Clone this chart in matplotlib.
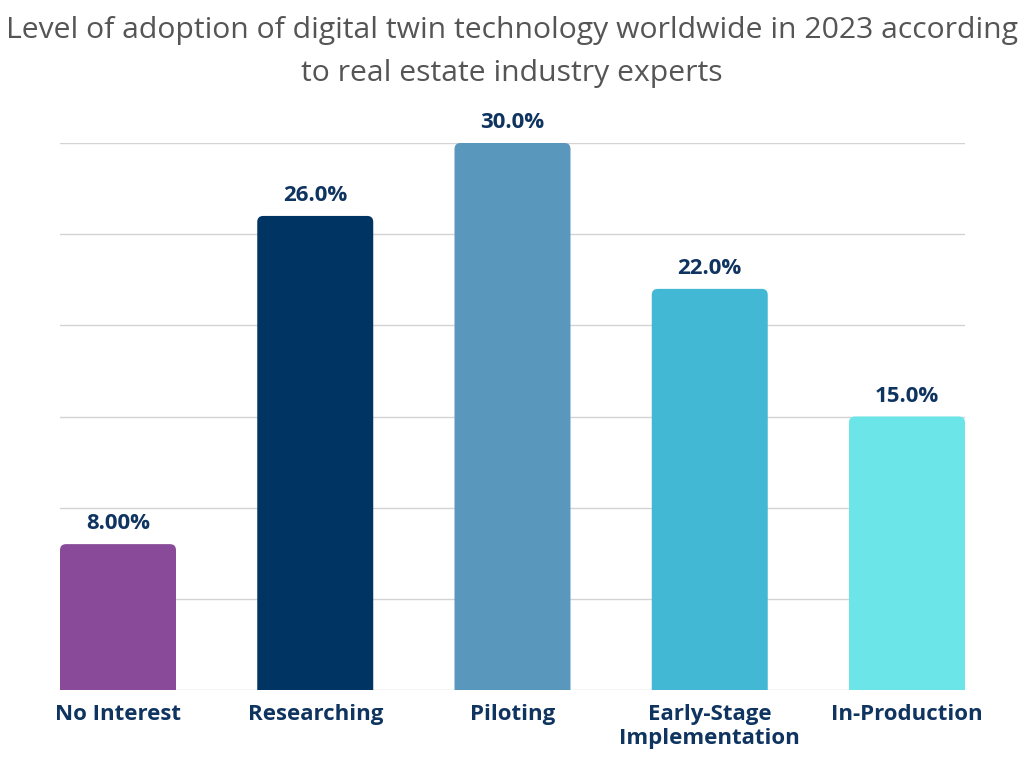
import matplotlib
matplotlib.use("Agg")
import matplotlib.pyplot as plt
from matplotlib.patches import FancyBboxPatch

categories = ["No Interest", "Researching", "Piloting", "Early-Stage\nImplementation", "In-Production"]
values = [8.0, 26.0, 30.0, 22.0, 15.0]
value_labels = ["8.00%", "26.0%", "30.0%", "22.0%", "15.0%"]
colors = ["#884A99", "#003462", "#5A97BD", "#42B8D4", "#6BE5E8"]
title = "Level of adoption of digital twin technology worldwide in 2023 according\nto real estate industry experts"

plt.rcParams['font.family'] = ['Open Sans', 'DejaVu Sans']

W, H = 1024, 768
fig = plt.figure(figsize=(W / 100, H / 100), dpi=100)
left, right, bottom, top = 60, 965, 690, 143
ax = fig.add_axes([left / W, 1 - bottom / H, (right - left) / W, (bottom - top) / H])

bw = 0.588
x = list(range(len(categories)))
bars = ax.bar(x, values, width=bw, color=colors, alpha=0)
ax.set_xlim(-bw / 2, len(categories) - 1 + bw / 2)
ax.set_ylim(0, 30)

# rounded-top bars from the bar geometry
xu_per_px = (len(categories) - 1 + bw) / (right - left)
yu_per_px = 30 / (bottom - top)
r = 6 * xu_per_px
for b, c, lab in zip(bars, colors, value_labels):
    bx, bwid, bh = b.get_x(), b.get_width(), b.get_height()
    p = FancyBboxPatch((bx, -2), bwid, bh + 2,
                       boxstyle=f"round,pad=0,rounding_size={r}",
                       mutation_aspect=yu_per_px / xu_per_px,
                       facecolor=c, edgecolor="none", zorder=3)
    ax.add_patch(p)
    ax.annotate(lab, (bx + bwid / 2, bh),
                xytext=(0, 7), textcoords="offset points",
                ha="center", va="bottom", fontsize=16, fontweight="bold",
                color="#0F3460")

for yv in range(0, 31, 5):
    ax.axhline(yv, color="#d3d3d3", lw=1, zorder=1)

for s in ax.spines.values():
    s.set_visible(False)
ax.set_yticks([])
ax.set_xticks(x)
ax.set_xticklabels(categories, fontsize=16, fontweight="bold", color="#0F3460", linespacing=1.2)
ax.tick_params(axis="x", length=0, pad=10)
for lbl in ax.get_xticklabels():
    lbl.set_va("top")

fig.text(0.5, 1 - 52 / H, title, ha="center", va="center", fontsize=21.7,
         color="#555555", linespacing=1.6)

fig.savefig("out.png", dpi=100)
